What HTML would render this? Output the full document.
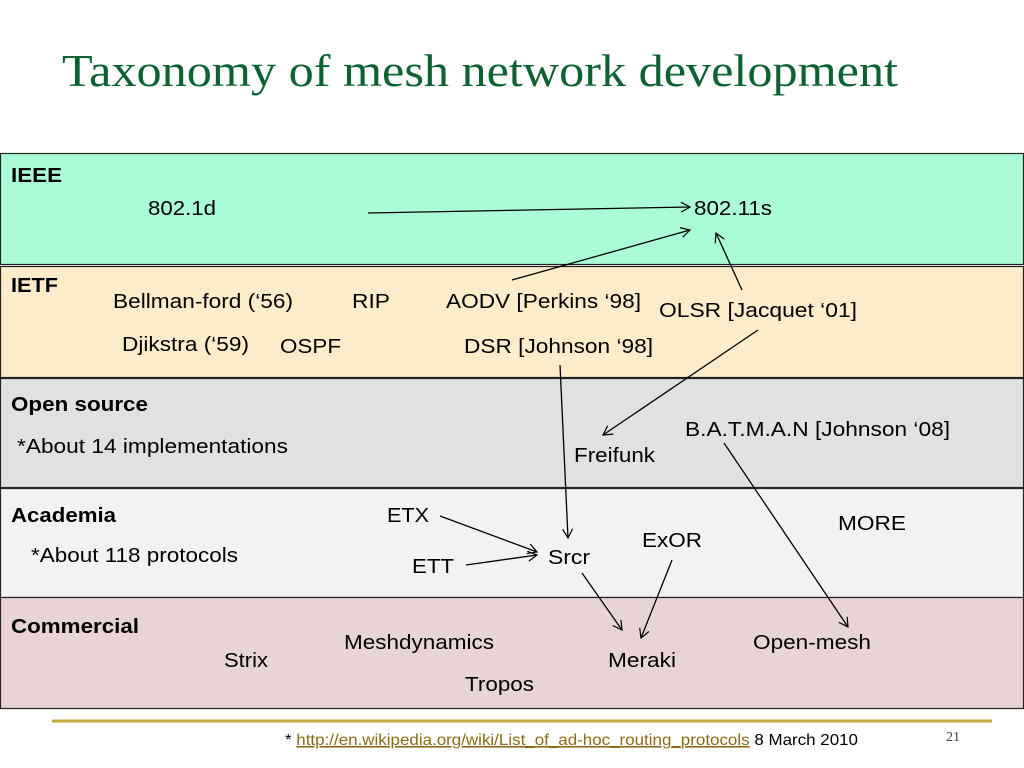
<!DOCTYPE html>
<html><head><meta charset="utf-8"><style>
html,body{margin:0;padding:0;background:#fff;width:1024px;height:768px;overflow:hidden}
svg text{font-family:"Liberation Sans",sans-serif;fill:#000}
</style></head><body>
<svg width="1024" height="768" viewBox="0 0 1024 768" xmlns="http://www.w3.org/2000/svg">
<defs><marker id="a" markerWidth="12" markerHeight="12" refX="10" refY="6" orient="auto" markerUnits="userSpaceOnUse"><path d="M1,1 L10,6 L1,11" fill="none" stroke="#000" stroke-width="1.2"/></marker></defs>
<text x="62" y="86" font-size="46" style="font-family:'Liberation Serif',serif;fill:#0d6234" textLength="836" lengthAdjust="spacingAndGlyphs">Taxonomy of mesh network development</text>
<g stroke="#222" stroke-width="1.2">
<rect x="0.5" y="153.5" width="1023" height="111" fill="#aafcd6"/>
<rect x="0.5" y="266.5" width="1023" height="111" fill="#fdecca"/>
<rect x="0.5" y="378.5" width="1023" height="109" fill="#e1e1e1"/>
<rect x="0.5" y="488.5" width="1023" height="109" fill="#f2f2f2"/>
<rect x="0.5" y="597.5" width="1023" height="111" fill="#e8d4d4"/>
</g>
<g font-size="20" font-weight="bold" lengthAdjust="spacingAndGlyphs">
<text x="11" y="182" textLength="51" lengthAdjust="spacingAndGlyphs">IEEE</text>
<text x="11" y="292" textLength="47" lengthAdjust="spacingAndGlyphs">IETF</text>
<text x="11" y="411" textLength="137" lengthAdjust="spacingAndGlyphs">Open source</text>
<text x="11" y="522" textLength="105" lengthAdjust="spacingAndGlyphs">Academia</text>
<text x="11" y="633" textLength="128" lengthAdjust="spacingAndGlyphs">Commercial</text>
</g>
<g font-size="20">
<text x="148" y="215" textLength="68" lengthAdjust="spacingAndGlyphs">802.1d</text>
<text x="694" y="215" textLength="78" lengthAdjust="spacingAndGlyphs">802.11s</text>
<text x="113" y="308" textLength="180" lengthAdjust="spacingAndGlyphs">Bellman-ford (‘56)</text>
<text x="352" y="308" textLength="38" lengthAdjust="spacingAndGlyphs">RIP</text>
<text x="446" y="308" textLength="195" lengthAdjust="spacingAndGlyphs">AODV [Perkins ‘98]</text>
<text x="659" y="317" textLength="198" lengthAdjust="spacingAndGlyphs">OLSR [Jacquet ‘01]</text>
<text x="122" y="351" textLength="127" lengthAdjust="spacingAndGlyphs">Djikstra (‘59)</text>
<text x="280" y="353" textLength="61" lengthAdjust="spacingAndGlyphs">OSPF</text>
<text x="464" y="353" textLength="189" lengthAdjust="spacingAndGlyphs">DSR [Johnson ‘98]</text>
<text x="17" y="453" textLength="271" lengthAdjust="spacingAndGlyphs">*About 14 implementations</text>
<text x="685" y="436" textLength="265" lengthAdjust="spacingAndGlyphs">B.A.T.M.A.N [Johnson ‘08]</text>
<text x="574" y="462" textLength="81" lengthAdjust="spacingAndGlyphs">Freifunk</text>
<text x="387" y="522" textLength="42" lengthAdjust="spacingAndGlyphs">ETX</text>
<text x="838" y="530" textLength="68" lengthAdjust="spacingAndGlyphs">MORE</text>
<text x="642" y="547" textLength="60" lengthAdjust="spacingAndGlyphs">ExOR</text>
<text x="31" y="562" textLength="207" lengthAdjust="spacingAndGlyphs">*About 118 protocols</text>
<text x="548" y="564" textLength="42" lengthAdjust="spacingAndGlyphs">Srcr</text>
<text x="412" y="573" textLength="42" lengthAdjust="spacingAndGlyphs">ETT</text>
<text x="344" y="649" textLength="150" lengthAdjust="spacingAndGlyphs">Meshdynamics</text>
<text x="753" y="649" textLength="118" lengthAdjust="spacingAndGlyphs">Open-mesh</text>
<text x="224" y="667" textLength="44" lengthAdjust="spacingAndGlyphs">Strix</text>
<text x="608" y="667" textLength="68" lengthAdjust="spacingAndGlyphs">Meraki</text>
<text x="465" y="691" textLength="69" lengthAdjust="spacingAndGlyphs">Tropos</text>
</g>
<g stroke="#000" stroke-width="1.3" marker-end="url(#a)">
<line x1="368" y1="213" x2="690" y2="207"/>
<line x1="512" y1="280" x2="690" y2="230"/>
<line x1="742" y1="290" x2="716" y2="233"/>
<line x1="758" y1="330" x2="603" y2="435"/>
<line x1="560" y1="365" x2="568" y2="538"/>
<line x1="440" y1="516" x2="537" y2="552"/>
<line x1="466" y1="565" x2="537" y2="555"/>
<line x1="582" y1="573" x2="622" y2="630"/>
<line x1="672" y1="560" x2="641" y2="638"/>
<line x1="724" y1="443" x2="848" y2="627"/>
</g>
<line x1="52" y1="721" x2="992" y2="721" stroke="#c8a83c" stroke-width="3"/>
<text x="285" y="745" font-size="16" textLength="573" lengthAdjust="spacingAndGlyphs">* <tspan style="fill:#8a6a14" text-decoration="underline">http://en.wikipedia.org/wiki/List_of_ad-hoc_routing_protocols</tspan> 8 March 2010</text>
<text x="946" y="741" font-size="14" style="font-family:'Liberation Serif',serif;fill:#444">21</text>
</svg>
</body></html>
